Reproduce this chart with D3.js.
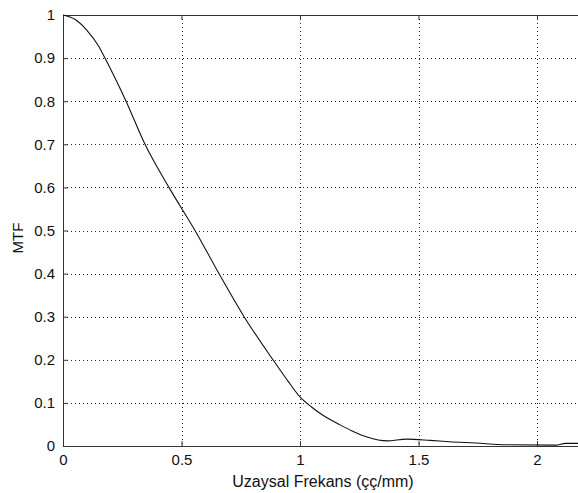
<!DOCTYPE html>
<html>
<head>
<meta charset="utf-8">
<script src="https://cdn.jsdelivr.net/npm/d3@7"></script>
<style>
  body { margin: 0; background: #fff; }
  text { font-family: "Liberation Sans", Arial, sans-serif; fill: #111; }
</style>
</head>
<body>
<div id="chart"></div>
<script>
// values
const freq = [0, 0.05, 0.1, 0.15, 0.177, 0.22, 0.266, 0.346, 0.447, 0.557, 0.658, 0.764, 0.886, 0.95, 1.0,
  1.05, 1.1, 1.169, 1.22, 1.283, 1.367, 1.45, 1.55, 1.63, 1.74, 1.87, 2.08, 2.12, 2.2];
const mtf = [1.0, 0.99, 0.965, 0.928, 0.9, 0.853, 0.8, 0.7, 0.6, 0.5, 0.4, 0.3, 0.2, 0.15, 0.114,
  0.09, 0.07, 0.049, 0.035, 0.021, 0.012, 0.016, 0.013, 0.01, 0.007, 0.003, 0.002, 0.006, 0.006];
const xTicks = [0, 0.5, 1, 1.5, 2];
const yTicks = [0, 0.1, 0.2, 0.3, 0.4, 0.5, 0.6, 0.7, 0.8, 0.9, 1];

const width = 578, height = 493;
const mLeft = 63, mTop = 15, mBottom = 446;
const xEnd = 2.2;
const mRight = mLeft + xEnd * 237;
const fontFamily = '"Liberation Sans", Arial, sans-serif';

const svg = d3.select('#chart').append('svg')
  .attr('width', width)
  .attr('height', height);

const x = d3.scaleLinear().domain([0, xEnd]).range([mLeft, mRight]);
const y = d3.scaleLinear().domain([0, 1]).range([mBottom, mTop]);

// grid
const grid = svg.append('g').attr('stroke', '#222').attr('stroke-dasharray', '1,3').attr('stroke-width', 1);
grid.selectAll('.gx').data(xTicks.filter(d => d > 0)).join('line')
  .attr('x1', d => Math.round(x(d)) + 0.5).attr('x2', d => Math.round(x(d)) + 0.5)
  .attr('y1', mTop).attr('y2', mBottom);
grid.selectAll('.gy').data(yTicks.filter(d => d > 0 && d < 1)).join('line')
  .attr('y1', d => Math.round(y(d)) + 0.5).attr('y2', d => Math.round(y(d)) + 0.5)
  .attr('x1', mLeft).attr('x2', mRight);

// axes with inward ticks
const xAxis = d3.axisBottom(x).tickValues(xTicks).tickSize(-5).tickPadding(8).tickFormat(d3.format('~g'));
const yAxis = d3.axisLeft(y).tickValues(yTicks).tickSize(-5).tickPadding(8).tickFormat(d3.format('~g'));

const gx = svg.append('g').attr('transform', `translate(0,${mBottom})`).call(xAxis);
const gy = svg.append('g').attr('transform', `translate(${mLeft},0)`).call(yAxis);
const gt = svg.append('g').attr('transform', `translate(0,${mTop})`)
  .call(d3.axisTop(x).tickValues(xTicks).tickSize(-5).tickFormat(''));

[gx, gy, gt].forEach(g => {
  g.selectAll('path').attr('stroke', '#333');
  g.selectAll('line').attr('stroke', '#333');
  g.selectAll('text').attr('font-size', 15).attr('font-family', fontFamily).attr('fill', '#111');
});

// curve
const line = d3.line().x((d, i) => x(freq[i])).y(d => y(d)).curve(d3.curveMonotoneX);
svg.append('path')
  .datum(mtf)
  .attr('fill', 'none')
  .attr('stroke', '#111')
  .attr('stroke-width', 1.1)
  .attr('d', line);

// labels
svg.append('text')
  .attr('x', 323).attr('y', 487)
  .attr('text-anchor', 'middle')
  .attr('font-size', 16)
  .text('Uzaysal Frekans (çç/mm)');

svg.append('text')
  .attr('transform', 'translate(23,238) rotate(-90)')
  .attr('text-anchor', 'middle')
  .attr('font-size', 15)
  .text('MTF');
</script>
</body>
</html>
